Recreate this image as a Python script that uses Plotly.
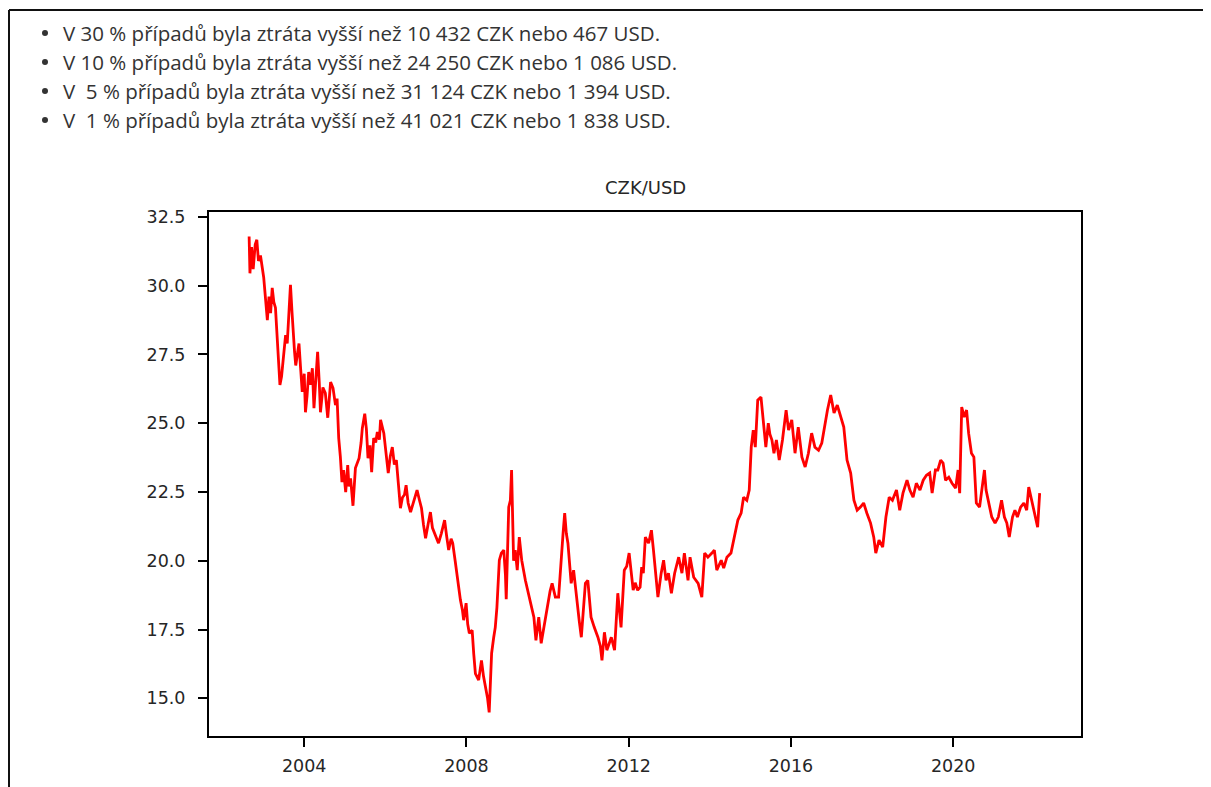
import pandas as pd
import plotly.graph_objects as go

# ---- data ----
years = [
    2002.64, 2002.66, 2002.70, 2002.74, 2002.79, 2002.83, 2002.87, 2002.92, 2003.00, 2003.05,
    2003.09, 2003.13, 2003.17, 2003.21, 2003.25, 2003.29, 2003.34, 2003.40, 2003.44, 2003.49,
    2003.54, 2003.58, 2003.62, 2003.66, 2003.70, 2003.73, 2003.76, 2003.79, 2003.83, 2003.87,
    2003.91, 2003.95, 2004.00, 2004.03, 2004.07, 2004.11, 2004.16, 2004.20, 2004.24, 2004.28,
    2004.33, 2004.37, 2004.40, 2004.46, 2004.52, 2004.58, 2004.65, 2004.71, 2004.77, 2004.81,
    2004.85, 2004.89, 2004.93, 2004.97, 2005.02, 2005.07, 2005.10, 2005.14, 2005.20, 2005.26,
    2005.35, 2005.40, 2005.43, 2005.49, 2005.53, 2005.57, 2005.62, 2005.66, 2005.71, 2005.76,
    2005.80, 2005.85, 2005.88, 2005.96, 2006.01, 2006.07, 2006.12, 2006.17, 2006.22, 2006.27,
    2006.32, 2006.37, 2006.42, 2006.47, 2006.51, 2006.56, 2006.62, 2006.70, 2006.78, 2006.84,
    2006.89, 2006.94, 2006.99, 2007.05, 2007.11, 2007.16, 2007.22, 2007.31, 2007.38, 2007.46,
    2007.51, 2007.56, 2007.62, 2007.66, 2007.72, 2007.77, 2007.85, 2007.90, 2007.93, 2007.99,
    2008.03, 2008.07, 2008.14, 2008.18, 2008.22, 2008.30, 2008.37, 2008.42, 2008.47, 2008.52,
    2008.56, 2008.62, 2008.67, 2008.71, 2008.75, 2008.81, 2008.86, 2008.92, 2008.96, 2008.98,
    2009.04, 2009.08, 2009.11, 2009.16, 2009.20, 2009.25, 2009.30, 2009.36, 2009.45, 2009.55,
    2009.61, 2009.66, 2009.71, 2009.78, 2009.84, 2009.92, 2010.01, 2010.06, 2010.11, 2010.19,
    2010.27, 2010.34, 2010.38, 2010.42, 2010.46, 2010.50, 2010.58, 2010.64, 2010.72, 2010.78,
    2010.83, 2010.88, 2010.93, 2010.99, 2011.07, 2011.15, 2011.24, 2011.30, 2011.34, 2011.40,
    2011.46, 2011.52, 2011.57, 2011.65, 2011.69, 2011.73, 2011.77, 2011.81, 2011.89, 2011.95,
    2012.01, 2012.06, 2012.11, 2012.16, 2012.22, 2012.28, 2012.32, 2012.36, 2012.41, 2012.49,
    2012.56, 2012.61, 2012.67, 2012.72, 2012.80, 2012.86, 2012.92, 2012.98, 2013.05, 2013.13,
    2013.23, 2013.31, 2013.37, 2013.46, 2013.51, 2013.60, 2013.71, 2013.80, 2013.87, 2013.95,
    2014.05, 2014.11, 2014.17, 2014.28, 2014.34, 2014.42, 2014.52, 2014.61, 2014.69, 2014.77,
    2014.83, 2014.91, 2014.97, 2015.02, 2015.07, 2015.12, 2015.18, 2015.26, 2015.32, 2015.38,
    2015.44, 2015.48, 2015.53, 2015.58, 2015.64, 2015.71, 2015.79, 2015.88, 2015.94, 2016.02,
    2016.10, 2016.18, 2016.27, 2016.35, 2016.43, 2016.51, 2016.59, 2016.68, 2016.76, 2016.84,
    2016.90, 2016.98, 2017.06, 2017.14, 2017.22, 2017.30, 2017.38, 2017.47, 2017.55, 2017.63,
    2017.71, 2017.79, 2017.87, 2017.96, 2018.04, 2018.09, 2018.17, 2018.26, 2018.34, 2018.42,
    2018.50, 2018.60, 2018.68, 2018.76, 2018.86, 2018.93, 2019.01, 2019.09, 2019.18, 2019.26,
    2019.34, 2019.42, 2019.48, 2019.56, 2019.62, 2019.69, 2019.75, 2019.81, 2019.89, 2019.97,
    2020.06, 2020.12, 2020.16, 2020.19, 2020.21, 2020.27, 2020.33, 2020.38, 2020.45, 2020.51,
    2020.57, 2020.65, 2020.71, 2020.77, 2020.81, 2020.87, 2020.95, 2021.03, 2021.11, 2021.19,
    2021.26, 2021.32, 2021.38, 2021.46, 2021.52, 2021.58, 2021.66, 2021.74, 2021.81, 2021.86,
    2021.93, 2022.03, 2022.08, 2022.13,
]
czk_usd = [
    31.79, 30.45, 31.40, 30.60, 31.50, 31.67, 30.90, 31.10, 30.30, 29.50,
    28.75, 29.60, 29.00, 29.92, 29.40, 29.20, 28.00, 26.39, 26.70, 27.50,
    28.20, 27.90, 28.90, 30.03, 29.00, 28.20, 27.60, 27.10, 27.50, 27.90,
    27.00, 26.14, 26.80, 25.40, 26.00, 26.86, 26.40, 27.00, 25.55, 26.60,
    27.60, 26.50, 25.40, 26.30, 26.10, 25.20, 26.50, 26.28, 25.66, 25.90,
    24.46, 23.80, 22.86, 23.30, 22.50, 23.48, 22.70, 23.00, 22.00, 23.37,
    23.73, 24.30, 24.82, 25.35, 24.80, 23.73, 24.20, 23.22, 24.46, 24.30,
    24.68, 24.40, 25.12, 24.64, 24.00, 23.19, 23.80, 24.13, 23.50, 23.66,
    22.80, 21.91, 22.30, 22.40, 22.75, 22.10, 21.77, 22.20, 22.57, 22.20,
    21.91, 21.30, 20.82, 21.30, 21.77, 21.20, 21.00, 20.64, 21.00, 21.48,
    20.90, 20.39, 20.80, 20.64, 20.00, 19.40, 18.57, 18.20, 17.84, 18.46,
    17.70, 17.37, 17.47, 16.60, 15.90, 15.66, 16.38, 15.80, 15.40, 15.00,
    14.49, 16.64, 17.20, 17.58, 18.30, 20.02, 20.28, 20.39, 19.50, 18.60,
    21.95, 22.20, 23.30, 20.00, 20.39, 19.66, 20.86, 20.02, 19.29, 18.68,
    18.20, 17.95, 17.11, 17.95, 17.00, 17.73, 18.46, 18.90, 19.18, 18.68,
    18.68, 20.39, 21.00, 21.73, 21.00, 20.64, 19.18, 19.66, 18.46, 17.80,
    17.22, 18.20, 19.18, 19.29, 17.95, 17.58, 17.22, 16.90, 16.38, 17.40,
    16.75, 17.00, 17.22, 16.75, 17.80, 18.82, 18.20, 17.58, 19.66, 19.80,
    20.28, 19.50, 18.93, 19.20, 18.93, 19.04, 19.77, 19.55, 20.86, 20.64,
    21.11, 20.39, 19.55, 18.68, 19.55, 20.02, 19.29, 19.55, 18.82, 19.55,
    20.13, 19.55, 20.28, 19.29, 20.13, 19.40, 19.18, 18.68, 20.28, 20.13,
    20.28, 20.39, 19.66, 20.02, 19.73, 20.13, 20.28, 20.86, 21.48, 21.73,
    22.31, 22.20, 22.57, 24.13, 24.75, 24.13, 25.84, 25.95, 25.12, 24.13,
    25.00, 24.60, 24.39, 23.91, 24.39, 23.66, 24.39, 25.48, 24.75, 25.12,
    23.91, 24.86, 23.77, 23.41, 23.91, 24.64, 24.13, 24.02, 24.28, 25.00,
    25.48, 26.03, 25.37, 25.66, 25.23, 24.86, 23.66, 23.19, 22.20, 21.84,
    21.95, 22.10, 21.73, 21.37, 20.86, 20.28, 20.75, 20.50, 21.59, 22.31,
    22.20, 22.57, 21.84, 22.46, 22.93, 22.57, 22.31, 22.82, 22.57, 22.93,
    23.11, 23.19, 22.46, 23.30, 23.30, 23.66, 23.55, 22.93, 23.04, 22.82,
    22.64, 23.30, 22.46, 24.50, 25.59, 25.23, 25.48, 24.64, 23.91, 23.77,
    22.10, 21.95, 22.57, 23.30, 22.57, 22.20, 21.59, 21.37, 21.59, 22.20,
    21.59, 21.37, 20.86, 21.59, 21.84, 21.59, 21.95, 22.10, 21.84, 22.68,
    22.20, 21.48, 21.22, 22.46,
]
x_tick_years = [2004, 2008, 2012, 2016, 2020]
y_ticks = [15.0, 17.5, 20.0, 22.5, 25.0, 27.5, 30.0, 32.5]
x_range_years = [2001.65, 2023.15]
y_range = [13.63, 32.68]
chart_title = "CZK/USD"
bullet_lines = [
    "V 30 % případů byla ztráta vyšší než 10 432 CZK nebo 467 USD.",
    "V 10 % případů byla ztráta vyšší než 24 250 CZK nebo 1 086 USD.",
    "V\u00a0 5 % případů byla ztráta vyšší než 31 124 CZK nebo 1 394 USD.",
    "V\u00a0 1 % případů byla ztráta vyšší než 41 021 CZK nebo 1 838 USD.",
]


def fy_to_date(f):
    y = int(f)
    return pd.Timestamp(year=y, month=1, day=1) + pd.Timedelta(days=(f - y) * 365.25)


dates = [fy_to_date(v) for v in years]

OFF = 8  # default body margin of the html page
PW, PH = 1211, 787
W, H = PW - OFF, PH - OFF
# plot area in page pixels
L, R, T, B = 209 - OFF, 1081 - OFF, 212 - OFF, 736 - OFF
ML, MR, MT, MB = L, W - R, T, H - B


def px_x(px):
    return (px - OFF - L) / (R - L)


def px_y(py):
    return (B - (py - OFF)) / (B - T)


fig = go.Figure()
fig.add_trace(go.Scatter(
    x=dates, y=czk_usd, mode="lines",
    line=dict(color="#ff0000", width=2.8),
    hoverinfo="skip", showlegend=False,
))

tick_font = dict(family="DejaVu Sans", size=17.5, color="#262626")
fig.update_layout(
    width=W, height=H,
    margin=dict(l=ML, r=MR, t=MT, b=MB, pad=0),
    paper_bgcolor="white", plot_bgcolor="white",
    showlegend=False,
    xaxis=dict(
        type="date",
        range=[fy_to_date(x_range_years[0]), fy_to_date(x_range_years[1])],
        tickvals=[pd.Timestamp(year=y, month=1, day=1) for y in x_tick_years],
        ticktext=[str(y) for y in x_tick_years],
        showgrid=False, zeroline=False,
        showline=True, linecolor="black", linewidth=2, mirror=True,
        ticks="outside", ticklen=9, tickwidth=2, tickcolor="black",
        tickfont=tick_font, ticklabelstandoff=4,
    ),
    yaxis=dict(
        range=y_range,
        tickvals=y_ticks,
        ticktext=[f"{v:.1f}" for v in y_ticks],
        showgrid=False, zeroline=False,
        showline=True, linecolor="black", linewidth=2, mirror=True,
        ticks="outside", ticklen=9, tickwidth=2, tickcolor="black",
        tickfont=tick_font, ticklabelstandoff=9,
    ),
)

annotations = [dict(
    text=chart_title, xref="paper", yref="paper",
    x=0.5, y=px_y(188), xanchor="center", yanchor="middle",
    showarrow=False, font=dict(family="DejaVu Sans", size=18, color="#262626"),
)]
shapes = []
line_y = [33, 62, 91, 120]
for ly, txt in zip(line_y, bullet_lines):
    shapes.append(dict(
        type="circle", xref="paper", yref="paper",
        xsizemode="pixel", ysizemode="pixel",
        xanchor=px_x(45), yanchor=px_y(ly),
        x0=-3, x1=3, y0=-3, y1=3,
        fillcolor="#333333", line=dict(width=0),
    ))
    annotations.append(dict(
        text=txt, xref="paper", yref="paper",
        x=px_x(61), y=px_y(ly), xanchor="left", yanchor="middle",
        showarrow=False, font=dict(family="Open Sans", size=20.5, color="#333333"),
    ))

# page frame (top and left border of the container)
shapes.append(dict(type="line", xref="paper", yref="paper",
                   x0=px_x(9), x1=px_x(PW + 5), y0=px_y(10), y1=px_y(10),
                   line=dict(color="#111111", width=2), layer="above"))
shapes.append(dict(type="line", xref="paper", yref="paper",
                   x0=px_x(9), x1=px_x(9), y0=px_y(10), y1=px_y(PH + 5),
                   line=dict(color="#111111", width=2), layer="above"))
fig.update_layout(annotations=annotations, shapes=shapes)

fig.write_html("out.html")
